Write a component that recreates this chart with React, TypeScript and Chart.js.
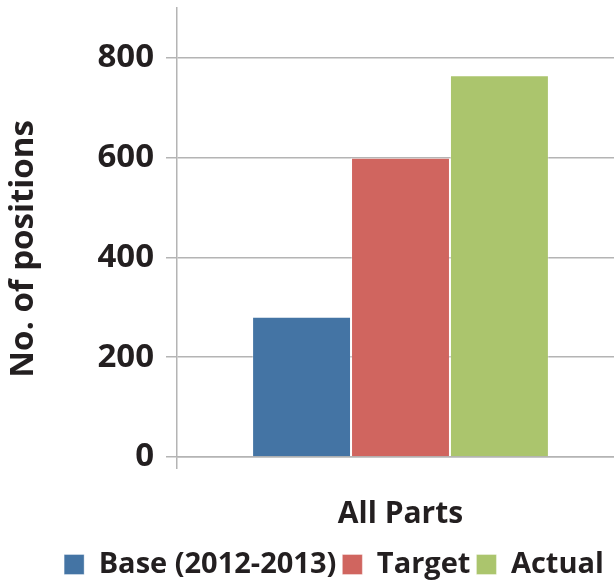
import React, { useEffect, useRef } from "react";
import { Chart, registerables } from "chart.js";

Chart.register(...registerables);

const categories = ["All Parts"];
const seriesNames = ["Base (2012-2013)", "Target", "Actual"];
const baseValues = [281];
const targetValues = [600];
const actualValues = [765];
const seriesColors = ["#4474A4", "#D0655F", "#ABC56D"];
const yAxisTitle = "No. of positions";
const yMin = 0;
const yMax = 900;
const yStep = 200;
const yLastTick = 800;

const FONT = "'Open Sans', sans-serif";
const TEXT = "#231F20";
const GRID = "#B4B4B4";

const legendShift = {
  id: "legendShift",
  afterLayout(chart: any) {
    const lg = chart.legend;
    if (lg) {
      lg.left += 22;
      lg.right += 22;
    }
  },
};

export default function App() {
  const ref = useRef<HTMLCanvasElement | null>(null);

  useEffect(() => {
    document.body.style.margin = "0";
    const canvas = ref.current;
    if (!canvas) return;
    const seriesValues = [baseValues, targetValues, actualValues];
    const chart = new Chart(canvas, {
      type: "bar",
      data: {
        labels: categories,
        datasets: seriesNames.map((name, i) => ({
          label: name,
          data: seriesValues[i],
          backgroundColor: seriesColors[i],
          borderColor: "rgba(255,255,255,0.35)",
          borderWidth: 1,
          barPercentage: 1,
          categoryPercentage: 0.664,
        })),
      },
      plugins: [legendShift],
      options: {
        animation: false,
        responsive: false,
        maintainAspectRatio: false,
        layout: { padding: { top: 8, right: 0, bottom: -6, left: 0 } },
        plugins: {
          tooltip: { enabled: false },
          legend: {
            position: "bottom",
            labels: {
              boxWidth: 20,
              boxHeight: 20,
              padding: 6,
              color: TEXT,
              font: { family: FONT, size: 29, weight: "bold" },
            },
          },
        },
        scales: {
          x: {
            afterFit: (scale: any) => {
              scale.height -= 15;
              scale.paddingLeft = 0;
              scale.paddingRight = 0;
            },
            grid: {
              drawOnChartArea: false,
              color: GRID,
              lineWidth: 1.5,
              tickLength: 12,
            },
            border: { color: GRID, width: 1.5 },
            ticks: {
              color: TEXT,
              padding: 27,
              font: { family: FONT, size: 30, weight: "bold" },
            },
          },
          y: {
            min: yMin,
            max: yMax,
            afterBuildTicks: (scale: any) => {
              scale.ticks = scale.ticks.filter((t: any) => t.value <= yLastTick);
            },
            afterFit: (scale: any) => {
              scale.width = 177;
              scale.paddingTop = 0;
              scale.paddingBottom = 0;
            },
            ticks: {
              stepSize: yStep,
              color: TEXT,
              padding: 12,
              font: { family: FONT, size: 33, weight: "bold" },
            },
            grid: { color: GRID, lineWidth: 1.5, tickLength: 11 },
            border: { color: GRID, width: 1.5 },
            title: {
              display: true,
              text: yAxisTitle + "\u2002\u2002",
              color: TEXT,
              padding: { top: 4, bottom: 0 },
              font: { family: FONT, size: 33, weight: "bold" },
            },
          },
        },
      },
    });
    return () => chart.destroy();
  }, []);

  return (
    <div style={{ width: 614, height: 583, overflow: "hidden" }}>
      <canvas ref={ref} width={624} height={583} style={{ display: "block" }} />
    </div>
  );
}
